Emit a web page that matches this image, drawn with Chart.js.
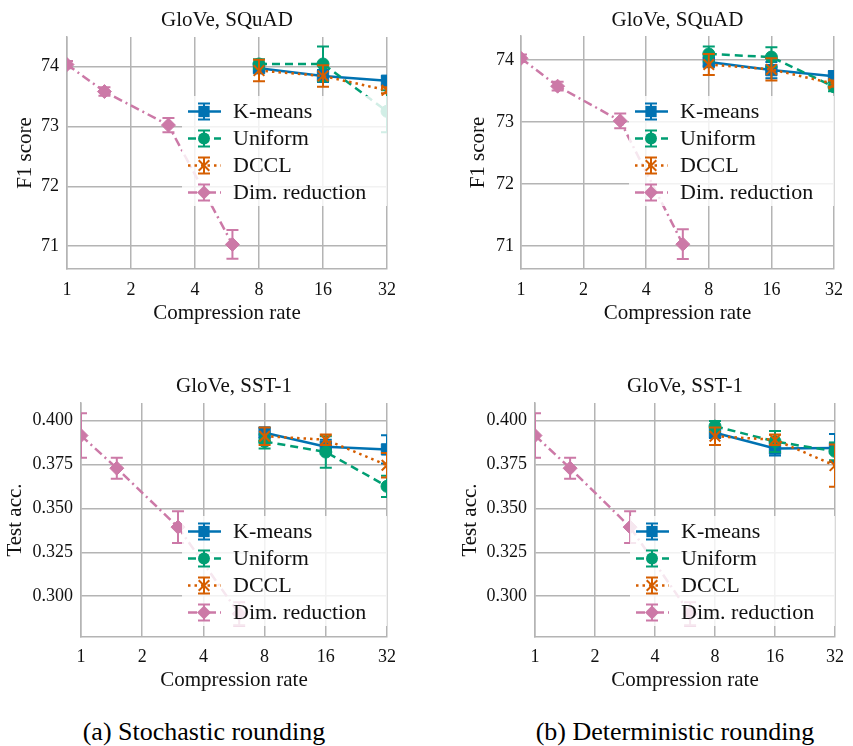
<!DOCTYPE html>
<html>
<head>
<meta charset="utf-8">
<script src="https://cdn.jsdelivr.net/npm/chart.js@4.4.1/dist/chart.umd.min.js"></script>
<style>
  html, body { margin: 0; padding: 0; background: #fff; }
  #fig { position: relative; width: 853px; height: 746px; overflow: hidden; background: #fff; }
  .panel { position: absolute; }
  .caption { position: absolute; font-family: "Liberation Serif", serif; font-size: 26px; line-height: 26px;
             color: #000; white-space: nowrap; transform: translateX(-50%); }
</style>
</head>
<body>
<div id="fig">
  <canvas class="panel" id="c1" width="426" height="330" style="left:0;top:0"></canvas>
  <canvas class="panel" id="c2" width="427" height="330" style="left:426px;top:0"></canvas>
  <canvas class="panel" id="c3" width="426" height="340" style="left:0;top:360px"></canvas>
  <canvas class="panel" id="c4" width="427" height="340" style="left:426px;top:360px"></canvas>
  <div class="caption" style="left:204px;top:719px">(a) Stochastic rounding</div>
  <div class="caption" style="left:675px;top:719px">(b) Deterministic rounding</div>
</div>
<script>
// x positions
const quantRates = [8, 16, 32];
const dimRates = [1, 1.5, 3, 6];
const xTickValues = [1, 2, 4, 8, 16, 32];
const xTickLabels = ['1', '2', '4', '8', '16', '32'];

// y ticks
const squadTicks = [71, 72, 73, 74];
const squadTickLabels = ['71', '72', '73', '74'];
const sstTicks = [0.300, 0.325, 0.350, 0.375, 0.400];
const sstTickLabels = ['0.300', '0.325', '0.350', '0.375', '0.400'];

const seriesNames = ['K-means', 'Uniform', 'DCCL', 'Dim. reduction'];

// GloVe, SQuAD - stochastic rounding
const squadStochKmeans = [73.97, 73.84, 73.76];
const squadStochKmeansErr = [0.06, 0.10, 0.07];
const squadStochUniform = [74.04, 74.04, 73.25];
const squadStochUniformErr = [0.08, 0.29, 0.35];
const squadStochDccl = [73.93, 73.84, 73.60];
const squadStochDcclErr = [0.18, 0.18, 0.05];

// GloVe, SQuAD - deterministic rounding
const squadDetKmeans = [73.97, 73.84, 73.74];
const squadDetKmeansErr = [0.07, 0.13, 0.08];
const squadDetUniform = [74.10, 74.05, 73.57];
const squadDetUniformErr = [0.12, 0.16, 0.07];
const squadDetDccl = [73.93, 73.85, 73.62];
const squadDetDcclErr = [0.17, 0.18, 0.05];

// GloVe, SQuAD - dim. reduction
const squadDim = [74.03, 73.58, 73.02, 71.03];
const squadDimErr = [0.06, 0.07, 0.12, 0.24];

// GloVe, SST-1 - stochastic rounding
const sstStochKmeans = [0.393, 0.385, 0.3835];
const sstStochKmeansErr = [0.003, 0.004, 0.008];
const sstStochUniform = [0.388, 0.382, 0.3625];
const sstStochUniformErr = [0.004, 0.009, 0.006];
const sstStochDccl = [0.391, 0.389, 0.3745];
const sstStochDcclErr = [0.005, 0.003, 0.007];

// GloVe, SST-1 - deterministic rounding
const sstDetKmeans = [0.393, 0.384, 0.3843];
const sstDetKmeansErr = [0.003, 0.004, 0.008];
const sstDetUniform = [0.3967, 0.388, 0.3824];
const sstDetUniformErr = [0.003, 0.006, 0.005];
const sstDetDccl = [0.391, 0.389, 0.3743];
const sstDetDcclErr = [0.005, 0.003, 0.012];

// GloVe, SST-1 - dim. reduction
const sstDim = [0.3914, 0.3728, 0.3393, 0.2900];
const sstDimErr = [0.0126, 0.006, 0.009, 0.0065];

const BLUE = '#0072B2', GREEN = '#009E73', ORANGE = '#D55E00', PINK = '#CC79A7';
const GRID = '#b4b4b4';
const SERIF = '"Liberation Serif", "Times New Roman", serif';

function pts(xs, ys) {
  return xs.map((x, i) => ({ x: x, y: ys[i] }));
}

function marker(ctx, style, r, x, y) {
  ctx.beginPath();
  if (style === 'rect') {
    const s = Math.SQRT1_2 * r;
    ctx.rect(x - s, y - s, 2 * s, 2 * s);
    ctx.fill();
  } else if (style === 'circle') {
    ctx.arc(x, y, r, 0, Math.PI * 2);
    ctx.fill();
  } else if (style === 'rectRot') {
    ctx.moveTo(x, y - r); ctx.lineTo(x + r, y); ctx.lineTo(x, y + r); ctx.lineTo(x - r, y);
    ctx.closePath();
    ctx.fill();
  } else if (style === 'crossRot') {
    const o = Math.SQRT1_2 * r;
    ctx.moveTo(x - o, y - o); ctx.lineTo(x + o, y + o);
    ctx.moveTo(x - o, y + o); ctx.lineTo(x + o, y - o);
    ctx.stroke();
  }
}

// vertical error bars, drawn from each dataset's err array through the y scale
const errorBars = {
  id: 'errorBars',
  beforeDatasetDraw(chart, args) {
    const ds = chart.data.datasets[args.index];
    if (!ds.err) return;
    const { ctx, chartArea: a } = chart;
    const ys = chart.scales.y;
    ctx.save();
    ctx.beginPath();
    ctx.rect(a.left, a.top, a.right - a.left, a.bottom - a.top);
    ctx.clip();
    ctx.strokeStyle = ds.borderColor;
    ctx.lineWidth = 2;
    ctx.setLineDash([]);
    args.meta.data.forEach((p, i) => {
      const v = ds.data[i].y, e = ds.err[i];
      const y1 = ys.getPixelForValue(v + e), y2 = ys.getPixelForValue(v - e);
      ctx.beginPath();
      ctx.moveTo(p.x, y1); ctx.lineTo(p.x, y2);
      ctx.moveTo(p.x - 6, y1); ctx.lineTo(p.x + 6, y1);
      ctx.moveTo(p.x - 6, y2); ctx.lineTo(p.x + 6, y2);
      ctx.stroke();
    });
    ctx.restore();
  }
};

// panel title centred over the plot area
const panelTitle = {
  id: 'panelTitle',
  afterDraw(chart, args, opts) {
    const { ctx, chartArea: a } = chart;
    ctx.save();
    ctx.fillStyle = '#111';
    ctx.font = '21px ' + SERIF;
    ctx.textAlign = 'center';
    ctx.textBaseline = 'middle';
    ctx.fillText(opts.text, (a.left + a.right) / 2, opts.y);
    ctx.restore();
  }
};

// pgfplots-like legend box with line, error bar and marker samples
const boxLegend = {
  id: 'boxLegend',
  afterDraw(chart, args, opts) {
    const { ctx, chartArea: a } = chart;
    const w = 205, h = 110;
    const left = a.right - w, top = a.top + opts.top;
    ctx.save();
    ctx.fillStyle = 'rgba(255,255,255,0.82)';
    ctx.fillRect(left, top, w, h);
    chart.data.datasets.forEach((ds, i) => {
      const y = top + 15.5 + i * 27;
      const mx = left + 22;
      ctx.strokeStyle = ds.borderColor;
      ctx.fillStyle = ds.backgroundColor;
      ctx.lineWidth = ds.borderWidth;
      ctx.setLineDash(ds.borderDash || []);
      ctx.beginPath();
      ctx.moveTo(left + 6, y); ctx.lineTo(left + 39, y);
      ctx.stroke();
      ctx.setLineDash([]);
      ctx.lineWidth = 2;
      ctx.beginPath();
      ctx.moveTo(mx, y - 8); ctx.lineTo(mx, y + 8);
      ctx.moveTo(mx - 6, y - 8); ctx.lineTo(mx + 6, y - 8);
      ctx.moveTo(mx - 6, y + 8); ctx.lineTo(mx + 6, y + 8);
      ctx.stroke();
      ctx.lineWidth = ds.pointBorderWidth;
      marker(ctx, ds.pointStyle, ds.pointRadius, mx, y);
      ctx.fillStyle = '#111';
      ctx.font = '22px ' + SERIF;
      ctx.textBaseline = 'middle';
      ctx.textAlign = 'left';
      ctx.fillText(ds.label, left + 51, y + 1);
    });
    ctx.restore();
  }
};

function makeChart(id, p) {
  const datasets = [
    { label: seriesNames[0], data: pts(quantRates, p.kmeans), err: p.kmeansErr,
      borderColor: BLUE, backgroundColor: BLUE, borderWidth: 2.5, borderDash: [],
      pointStyle: 'rect', pointRadius: 8, pointBorderWidth: 1, order: 3 },
    { label: seriesNames[1], data: pts(quantRates, p.uniform), err: p.uniformErr,
      borderColor: GREEN, backgroundColor: GREEN, borderWidth: 2.5, borderDash: [8, 5],
      pointStyle: 'circle', pointRadius: 6, pointBorderWidth: 1, order: 2 },
    { label: seriesNames[2], data: pts(quantRates, p.dccl), err: p.dcclErr,
      borderColor: ORANGE, backgroundColor: ORANGE, borderWidth: 2.5, borderDash: [2.5, 4],
      pointStyle: 'crossRot', pointRadius: 7.5, pointBorderWidth: 2, order: 1 },
    { label: seriesNames[3], data: pts(dimRates, p.dim), err: p.dimErr,
      borderColor: PINK, backgroundColor: PINK, borderWidth: 2.5, borderDash: [9, 4, 2, 4],
      pointStyle: 'rectRot', pointRadius: 7, pointBorderWidth: 1, order: 0 }
  ];
  datasets.forEach(d => { d.pointHoverRadius = d.pointRadius; d.pointBorderColor = d.borderColor; });

  return new Chart(document.getElementById(id), {
    type: 'line',
    data: { datasets },
    plugins: [errorBars, panelTitle, boxLegend],
    options: {
      responsive: false,
      animation: false,
      events: [],
      layout: { padding: { left: 0, right: p.padRight, top: p.padTop, bottom: 0 } },
      plugins: {
        legend: { display: false },
        tooltip: { enabled: false },
        title: { display: false },
        panelTitle: { text: p.title, y: p.titleY },
        boxLegend: { top: p.legendTop }
      },
      scales: {
        x: {
          type: 'logarithmic', min: 1, max: 32,
          afterBuildTicks: s => { s.ticks = xTickValues.map(v => ({ value: v })); },
          afterFit: s => { s.height = p.xAxisHeight; },
          ticks: {
            color: '#111', padding: p.xTickPad, maxRotation: 0, autoSkip: false,
            font: { family: SERIF, size: 18 },
            callback: (v, i) => xTickLabels[i]
          },
          grid: { color: GRID, lineWidth: 1.5, drawTicks: false },
          border: { color: GRID, width: 1.5 },
          title: {
            display: true, text: 'Compression rate', color: '#111',
            font: { family: SERIF, size: 21 }, padding: { top: 0, bottom: p.xTitlePad }
          }
        },
        y: {
          type: 'linear', min: p.yMin, max: p.yMax,
          afterBuildTicks: s => { s.ticks = p.yTicks.map(v => ({ value: v })); },
          afterFit: s => { s.width = p.yAxisWidth; },
          ticks: {
            color: '#111', padding: p.yTickPad,
            font: { family: SERIF, size: 18 },
            callback: (v, i) => p.yTickLabels[i]
          },
          grid: { color: GRID, lineWidth: 1.5, drawTicks: false },
          border: { color: GRID, width: 1.5 },
          title: {
            display: true, text: p.yTitle, color: '#111',
            font: { family: SERIF, size: 21 }, padding: { top: p.yTitlePad, bottom: 0 }
          }
        }
      }
    }
  });
}

makeChart('c1', {
  title: 'GloVe, SQuAD', yTitle: 'F1 score',
  kmeans: squadStochKmeans, kmeansErr: squadStochKmeansErr,
  uniform: squadStochUniform, uniformErr: squadStochUniformErr,
  dccl: squadStochDccl, dcclErr: squadStochDcclErr,
  dim: squadDim, dimErr: squadDimErr,
  yMin: 70.62, yMax: 74.49, yTicks: squadTicks, yTickLabels: squadTickLabels,
  padRight: 39, padTop: 37, titleY: 20, xAxisHeight: 61, xTickPad: 10, xTitlePad: 4.4,
  yAxisWidth: 67, yTickPad: 8, yTitlePad: 12.4, legendTop: 59
});
makeChart('c2', {
  title: 'GloVe, SQuAD', yTitle: 'F1 score',
  kmeans: squadDetKmeans, kmeansErr: squadDetKmeansErr,
  uniform: squadDetUniform, uniformErr: squadDetUniformErr,
  dccl: squadDetDccl, dcclErr: squadDetDcclErr,
  dim: squadDim, dimErr: squadDimErr,
  yMin: 70.63, yMax: 74.39, yTicks: squadTicks, yTickLabels: squadTickLabels,
  padRight: 12, padTop: 36, titleY: 20, xAxisHeight: 61, xTickPad: 10, xTitlePad: 4.4,
  yAxisWidth: 95, yTickPad: 7, yTitlePad: 39.4, legendTop: 60
});
makeChart('c3', {
  title: 'GloVe, SST-1', yTitle: 'Test acc.',
  kmeans: sstStochKmeans, kmeansErr: sstStochKmeansErr,
  uniform: sstStochUniform, uniformErr: sstStochUniformErr,
  dccl: sstStochDccl, dcclErr: sstStochDcclErr,
  dim: sstDim, dimErr: sstDimErr,
  yMin: 0.2768, yMax: 0.4099, yTicks: sstTicks, yTickLabels: sstTickLabels,
  padRight: 39, padTop: 43, titleY: 26.7, xAxisHeight: 63, xTickPad: 9, xTitlePad: 7.4,
  yAxisWidth: 81, yTickPad: 8, yTitlePad: 2.4, legendTop: 113
});
makeChart('c4', {
  title: 'GloVe, SST-1', yTitle: 'Test acc.',
  kmeans: sstDetKmeans, kmeansErr: sstDetKmeansErr,
  uniform: sstDetUniform, uniformErr: sstDetUniformErr,
  dccl: sstDetDccl, dcclErr: sstDetDcclErr,
  dim: sstDim, dimErr: sstDimErr,
  yMin: 0.2768, yMax: 0.4099, yTicks: sstTicks, yTickLabels: sstTickLabels,
  padRight: 11, padTop: 43, titleY: 26.7, xAxisHeight: 63, xTickPad: 9, xTitlePad: 7.4,
  yAxisWidth: 109, yTickPad: 8, yTitlePad: 31.4, legendTop: 113
});
</script>
</body>
</html>
